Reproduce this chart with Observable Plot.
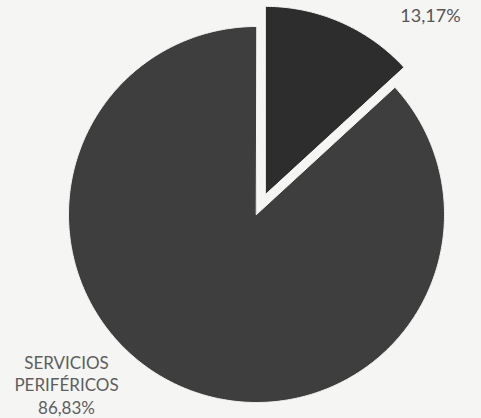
<!DOCTYPE html>
<html>
<head>
<meta charset="utf-8">
<script src="https://cdn.jsdelivr.net/npm/d3@7"></script>
<script src="https://cdn.jsdelivr.net/npm/@observablehq/plot@0.6"></script>
<style>
  html, body { margin: 0; padding: 0; background: #f5f5f4; }
  #chart { width: 481px; height: 418px; overflow: hidden; }
</style>
</head>
<body>
<div id="chart"></div>
<script>
// ---- data ----
const categories = ["OTROS", "SERVICIOS PERIFÉRICOS"];
const values = [13.17, 86.83];
const valueLabels = ["13,17%", "86,83%"];
const showCategory = [false, true];
const sliceColors = ["#2d2d2d", "#3e3e3e"];

// ---- layout ----
const W = 481, H = 418;
const cx = 256, cy = 214;       // pie centre in pixels
const R = 188;                   // radius
const explode = [22, 0];         // pull-out per slice
const total = d3.sum(values);

// build polygon points for each slice (angles clockwise from 12 o'clock)
const pts = [];
let start = 0;
values.forEach((v, i) => {
  const a0 = start, a1 = start + (v / total) * 2 * Math.PI;
  start = a1;
  const mid = (a0 + a1) / 2;
  const ox = explode[i] * Math.sin(mid), oy = explode[i] * Math.cos(mid);
  const name = categories[i];
  pts.push({name, x: ox, y: oy});
  const n = Math.max(8, Math.ceil((a1 - a0) * 120));
  for (let k = 0; k <= n; k++) {
    const a = a0 + (a1 - a0) * k / n;
    pts.push({name, x: ox + R * Math.sin(a), y: oy + R * Math.cos(a)});
  }
});

const labels = values.map((v, i) => ({
  text: (showCategory[i] ? categories[i].replace(" ", "\n") + "\n" : "") + valueLabels[i],
  name: categories[i]
}));

const plot = Plot.plot({
  width: W,
  height: H,
  margin: 0,
  style: {background: "#f5f5f4", overflow: "visible"},
  x: {domain: [-cx, W - cx], range: [0, W], axis: null},
  y: {domain: [-(H - cy), cy], range: [H, 0], axis: null},
  color: {domain: categories, range: sliceColors},
  marks: [
    Plot.line(pts, {
      x: "x", y: "y", z: "name",
      fill: "name", stroke: "#f5f5f4", strokeWidth: 1,
      curve: "linear-closed"
    }),
    Plot.text([labels[0]], {
      text: "text", frameAnchor: "top-right", dx: -51, dy: 16,
      textAnchor: "middle", lineAnchor: "middle",
      fill: "#555", fontSize: 18, fontFamily: "Lato"
    }),
    Plot.text([labels[1]], {
      text: "text", frameAnchor: "bottom-left", dx: 66, dy: -5,
      textAnchor: "middle", lineAnchor: "bottom", lineHeight: 1.3,
      fill: "#5e5e5e", fontSize: 17, fontFamily: "Lato"
    })
  ]
});
document.getElementById("chart").appendChild(plot);
</script>
</body>
</html>
